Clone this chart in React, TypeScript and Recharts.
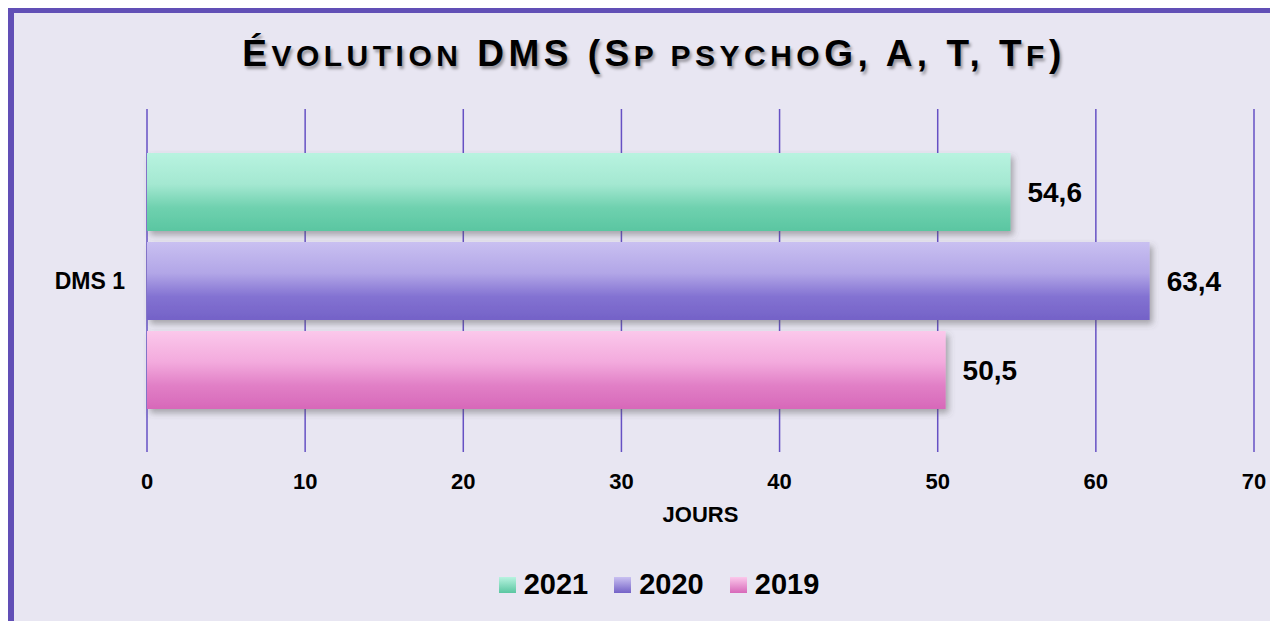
import React from 'react';
import { BarChart, Bar, XAxis, YAxis, CartesianGrid, Legend, LabelList } from 'recharts';

const categories = ['DMS 1'];
const years = ['2021', '2020', '2019'];
const values2021 = [54.6];
const values2020 = [63.4];
const values2019 = [50.5];
const xTicks = [0, 10, 20, 30, 40, 50, 60, 70];

// title pieces, true = drawn as small capitals
const titleParts: [string, boolean][] = [
  ['É', false], ['VOLUTION', true], [' DMS (S', false], ['P PSYCHO', true],
  ['G, A, T, T', false], ['F', true], [')', false],
];

const seriesValues: Record<string, number[]> = { '2021': values2021, '2020': values2020, '2019': values2019 };

// top -> bottom colours for each bar gradient
const gradients: Record<string, string[]> = {
  '2021': ['#b8f3e0', '#a4e8d1', '#6fd1af', '#5ac6a1'],
  '2020': ['#c9c0f1', '#b2a6e7', '#8372d2', '#7462c7'],
  '2019': ['#fbc8eb', '#f3aadd', '#e17fc6', '#d768b9'],
};

const data = categories.map((name, i) => {
  const row: Record<string, string | number> = { name };
  years.forEach((y) => { row[y] = seriesValues[y][i]; });
  return row;
});

const fmt = (v: any) => String(v).replace('.', ',');

const LegendContent = () => (
  <div style={{ display: 'flex', justifyContent: 'center', alignItems: 'center', gap: 26, paddingLeft: 50 }}>
    {years.map((y) => (
      <div key={y} style={{ display: 'flex', alignItems: 'center', gap: 8 }}>
        <span style={{
          width: 17, height: 16, display: 'inline-block',
          background: `linear-gradient(${gradients[y][0]}, ${gradients[y][3]})`,
        }} />
        <span style={{ fontSize: 29, fontWeight: 700, color: '#000', lineHeight: '33px' }}>{y}</span>
      </div>
    ))}
  </div>
);

export default function App() {
  return (
    <div style={{
      position: 'relative', width: 1270, height: 614, boxSizing: 'border-box',
      borderTop: '6px solid #614fb6', borderLeft: '6px solid #614fb6',
      background: '#e8e6f2', fontFamily: '"Liberation Sans", Arial, sans-serif', marginTop: -1,
    }}>
      <div style={{
        position: 'absolute', top: 21, left: 16, right: 0, textAlign: 'center', lineHeight: '40px',
        fontSize: 37, fontWeight: 700, letterSpacing: 4.5,
        color: '#000', textShadow: '2px 3px 3px rgba(0,0,0,0.35)', whiteSpace: 'pre',
      }}>
        {titleParts.map(([t, small], i) => (
          <span key={i} style={{ fontSize: small ? 30 : 37 }}>{t}</span>
        ))}
      </div>
      <BarChart
        width={1264}
        height={608}
        data={data}
        layout="vertical"
        margin={{ top: 96, right: 24, left: 0, bottom: 99 }}
        barSize={78}
        barGap={11}
      >
        <defs>
          {years.map((y) => (
            <linearGradient key={y} id={`grad${y}`} x1="0" y1="0" x2="0" y2="1">
              <stop offset="0%" stopColor={gradients[y][0]} />
              <stop offset="40%" stopColor={gradients[y][1]} />
              <stop offset="70%" stopColor={gradients[y][2]} />
              <stop offset="100%" stopColor={gradients[y][3]} />
            </linearGradient>
          ))}
          <filter id="barShadow" x="-5%" y="-20%" width="115%" height="150%">
            <feDropShadow dx="3" dy="4" stdDeviation="3" floodColor="#555" floodOpacity="0.45" />
          </filter>
        </defs>
        <CartesianGrid horizontal={false} stroke="#6651c4" strokeWidth={1.5} />
        <XAxis
          type="number"
          domain={[0, 70]}
          ticks={xTicks}
          tickLine={false}
          axisLine={false}
          tickMargin={15}
          height={70}
          tick={{ fill: '#000', fontSize: 22, fontWeight: 700 }}
          label={{ value: 'JOURS', position: 'insideBottom', offset: 0, fill: '#000', fontSize: 22, fontWeight: 700 }}
        />
        <YAxis
          type="category"
          dataKey="name"
          width={133}
          tickLine={false}
          axisLine={false}
          tickMargin={16}
          tick={{ fill: '#000', fontSize: 23, fontWeight: 700 }}
        />
        <Legend verticalAlign="middle" layout="horizontal" wrapperStyle={{ top: 555 }} content={<LegendContent />} />
        {years.map((y) => (
          <Bar key={y} dataKey={y} fill={`url(#grad${y})`} filter="url(#barShadow)" isAnimationActive={false}>
            <LabelList dataKey={y} position="right" offset={17} formatter={fmt} fill="#000" fontSize={28} fontWeight={700} />
          </Bar>
        ))}
      </BarChart>
    </div>
  );
}
